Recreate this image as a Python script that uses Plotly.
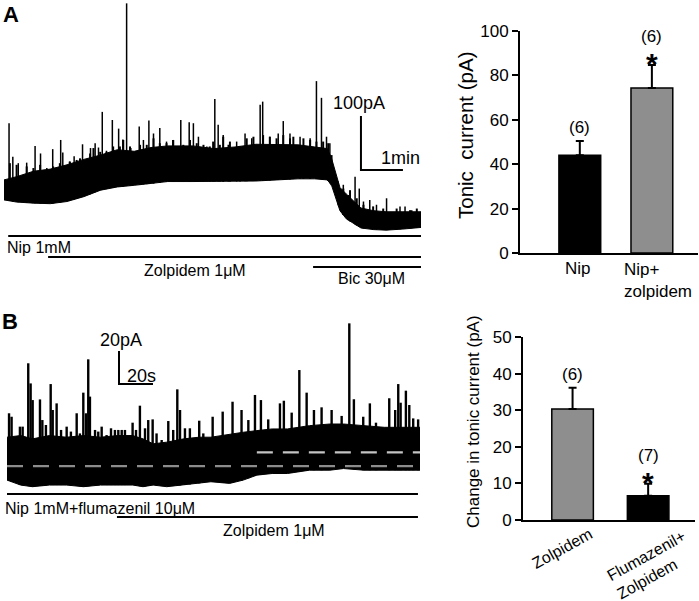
import numpy as np
import plotly.graph_objects as go

W, H = 699, 601
FONT = "Liberation Sans, Arial, sans-serif"

# ---- panel A trace (time in min, current in pA) ----
a_t = [0, 0.3, 0.7, 1.1, 1.5, 1.9, 2.3, 2.7, 3.1, 3.5, 3.9, 4.5, 5.0, 5.5, 6.0, 6.5, 7.0, 7.4,
       7.7, 7.8, 7.9, 8.0, 8.15, 8.3, 8.5, 8.8, 9.1, 9.5, 9.93]
a_low = [65, 61, 59, 58, 62, 71, 83, 89, 92, 95, 99, 99, 99, 99, 100, 102, 104, 104,
         102, 92, 70, 45, 30, 22, 13, 10, 9, 11, 14]
a_high = [102, 108, 118, 122, 130, 140, 148, 158, 155, 162, 165, 165, 160, 163, 168, 168, 167, 163,
          160, 142, 117, 88, 76, 65, 50, 45, 43, 43, 43]
a_spk_t = [0.12, 0.21, 0.34, 0.54, 0.74, 0.87, 1.02, 1.16, 1.35, 1.40, 1.56, 1.67, 1.87, 2.06, 2.17,
           2.25, 2.34, 2.44, 2.58, 2.73, 2.83, 2.92, 3.02, 3.22, 3.32, 3.45, 3.56, 3.71, 3.87, 4.02,
           4.21, 4.41, 4.51, 4.63, 4.83, 5.02, 5.10, 5.22, 5.34, 5.54, 5.74, 5.90, 6.10, 6.16, 6.33,
           6.53, 6.65, 6.81, 7.05, 7.29, 7.44, 7.56, 7.68, 7.76, 7.96, 8.08, 8.20, 8.36, 8.46, 8.56,
           8.71, 8.87, 9.11, 9.43, 9.55, 9.71]
a_spk_pa = [207, 145, 133, 134, 165, 151, 124, 159, 176, 153, 136, 146, 168, 161, 170,
            162, 228, 156, 213, 197, 177, 429, 161, 201, 176, 212, 188, 198, 173, 176,
            213, 209, 207, 182, 164, 252, 204, 185, 167, 173, 188, 179, 241, 247, 182,
            188, 211, 188, 182, 179, 285, 254, 182, 170, 99, 93, 74, 108, 86, 62,
            65, 56, 68, 53, 53, 46]
# smaller events riding on the top of the band
a_minor_t = [0.14, 0.30, 0.54, 0.70, 0.86, 1.17, 1.33, 1.57, 1.73, 1.81, 2.05, 2.13, 2.29, 2.44,
             2.60, 2.76, 2.84, 3.00, 3.24, 3.40, 3.56, 3.71, 3.87, 4.03, 4.27, 4.43, 4.59, 4.75,
             4.90, 4.98, 5.14, 5.22, 5.38, 5.62, 5.78, 5.94, 6.17, 6.33, 6.49, 6.65, 6.81, 6.89,
             7.13, 7.29, 7.44, 7.60, 7.72, 7.80, 8.08, 8.24, 8.40, 8.56, 8.79, 9.03, 9.35, 9.67, 9.83]
a_minor_pa = [133, 130, 127, 124, 130, 127, 133, 136, 139, 142, 151, 161, 154, 154,
              164, 164, 176, 164, 167, 167, 179, 170, 170, 176, 167, 176, 170, 167,
              164, 173, 167, 182, 173, 164, 179, 182, 185, 182, 179, 185, 179, 182,
              179, 176, 173, 173, 170, 148, 86, 83, 68, 56, 53, 49, 49, 46, 49]
a_drugs = ["Nip 1mM", "Zolpidem 1\u03bcM", "Bic 30\u03bcM"]
a_drug_start = [0.1, 1.05, 7.36]
a_drug_end = [9.98, 9.98, 9.98]

# ---- panel B trace (time in s, current in pA) ----
b_t = [0, 8, 15, 25, 35, 45, 55, 65, 74, 80, 86, 94, 104, 113, 120, 131, 139, 147, 156, 165,
       178, 190, 198, 210, 222, 232, 243]
b_low = [6, 3, 2, 3, 3, 2, 3, 3, 3, 2, 3, 2, 3, 4, 5, 4, 6, 9, 10, 10, 12, 12, 13, 12, 12, 12, 12]
b_high = [32, 33, 31, 33, 32, 33, 32, 33, 33, 31, 28, 29, 31, 32, 32, 34, 35, 36, 37, 37,
          39, 40, 40, 39, 38, 38, 38]
b_spk_t = [1.2, 2.7, 7.6, 9.2, 12.5, 13.9, 15.1, 19.4, 20.8, 22.9, 25.7, 26.9, 29.2, 31.8, 35.1,
           37.6, 41.0, 42.9, 44.9, 46.5, 47.8, 48.8, 51.8, 53.7, 55.7, 58.6, 61.2, 63.5, 65.5, 67.5,
           69.4, 73.9, 75.9, 78.2, 81.2, 83.1, 85.7, 88.0, 91.0, 94.9, 97.8, 100.2, 101.8, 104.7,
           107.6, 113.1, 115.5, 121.0, 126.9, 132.7, 138.0, 142.0, 145.9, 149.4, 153.7, 160.6,
           162.9, 167.5, 172.0, 176.3, 180.6, 185.1, 191.0, 196.9, 201.4, 204.1, 209.6, 213.5,
           217.1, 224.9, 228.4, 230.2, 231.6, 234.7, 236.7, 239.0, 241.9]
b_spk_pa = [46.5, 44.4, 38.4, 38.4, 76.8, 64.6, 54.5, 54.9, 42.4, 39.4, 64.2, 48.5, 52.5, 36.4, 38.4,
            35.4, 46.5, 34.3, 59.0, 46.5, 79.2, 56.6, 36.4, 35.4, 38.4, 33.3, 37.4, 36.4, 36.4, 36.4,
            36.4, 40.8, 36.4, 51.1, 37.4, 42.4, 42.8, 34.3, 30.3, 41.8, 36.4, 61.0, 48.5, 37.4,
            37.4, 42.0, 34.3, 44.4, 47.5, 53.5, 48.5, 42.4, 57.6, 54.5, 42.8, 52.5,
            54.1, 46.9, 72.7, 59.0, 48.5, 50.1, 48.5, 44.9, 101.0, 55.0, 44.4, 52.5,
            40.8, 55.6, 48.5, 64.2, 52.9, 60.2, 51.5, 43.4, 42.8]
b_base_level = [14.5, 22.8]
b_base_start = [0, 147]
b_drugs = ["Nip 1mM+flumazenil 10\u03bcM", "Zolpidem 1\u03bcM"]
b_drug_start = [0, 64.7]
b_drug_end = [241.8, 241.8]

# ---- bar charts ----
a_cats = ["Nip", "Nip+zolpidem"]
a_mean = [44, 74.3]
a_err = [6.5, 10.4]
a_n = ["(6)", "(6)"]
a_sig = ["", "*"]
b_cats = ["Zolpidem", "Flumazenil+Zolpidem"]
b_mean = [30.3, 6.6]
b_err = [5.8, 3.3]
b_n = ["(6)", "(7)"]
b_sig = ["", "*"]


def px(x):
    return x / W


def py(y):
    return 1 - y / H


def spikes(ts, peaks, band_t, band_low):
    base = np.interp(ts, band_t, band_low)
    xs, ys = [], []
    for t, b, p in zip(ts, base, peaks):
        xs += [t, t, None]
        ys += [b, p, None]
    return xs, ys


fig = go.Figure()

# trace A
fig.add_trace(go.Scatter(x=a_t, y=a_low, mode="lines", line=dict(color="black", width=1),
                         xaxis="x", yaxis="y"))
fig.add_trace(go.Scatter(x=a_t, y=a_high, mode="lines", line=dict(color="black", width=1),
                         fill="tonexty", fillcolor="black", xaxis="x", yaxis="y"))
sx, sy = spikes(a_minor_t, a_minor_pa, a_t, a_low)
fig.add_trace(go.Scatter(x=sx, y=sy, mode="lines", line=dict(color="black", width=2),
                         xaxis="x", yaxis="y"))
sx, sy = spikes(a_spk_t, a_spk_pa, a_t, a_low)
fig.add_trace(go.Scatter(x=sx, y=sy, mode="lines", line=dict(color="black", width=1.5),
                         xaxis="x", yaxis="y"))
# scale bar A: 100 pA / 1 min
fig.add_trace(go.Scatter(x=[8.5, 8.5, 9.5], y=[220.4, 120.4, 120.4], mode="lines",
                         line=dict(color="black", width=2), xaxis="x", yaxis="y"))

# trace B
fig.add_trace(go.Scatter(x=b_t, y=b_low, mode="lines", line=dict(color="black", width=1),
                         xaxis="x2", yaxis="y2"))
fig.add_trace(go.Scatter(x=b_t, y=b_high, mode="lines", line=dict(color="black", width=1),
                         fill="tonexty", fillcolor="black", xaxis="x2", yaxis="y2"))
sx, sy = spikes(b_spk_t, b_spk_pa, b_t, b_low)
fig.add_trace(go.Scatter(x=sx, y=sy, mode="lines", line=dict(color="black", width=2.4),
                         xaxis="x2", yaxis="y2"))
for lvl, st, col in zip(b_base_level, b_base_start, ["#8c8c8c", "#c4c4c4"]):
    fig.add_trace(go.Scatter(x=[st, b_t[-1]], y=[lvl, lvl], mode="lines",
                             line=dict(color=col, width=2.2, dash="16px,10px"),
                             xaxis="x2", yaxis="y2"))
fig.add_trace(go.Scatter(x=[65.9, 65.9, 85.9], y=[84.2, 64.2, 64.2], mode="lines",
                         line=dict(color="black", width=2), xaxis="x2", yaxis="y2"))

# bar charts
fig.add_trace(go.Bar(x=a_cats, y=a_mean, width=0.58,
                     marker=dict(color=["black", "#8e8e8e"], line=dict(color="black", width=1.5)),
                     error_y=dict(type="data", symmetric=False, array=a_err, arrayminus=[0, 0],
                                  color="black", thickness=2, width=4),
                     xaxis="x3", yaxis="y3"))
fig.add_trace(go.Bar(x=b_cats, y=b_mean, width=0.55,
                     marker=dict(color=["#8e8e8e", "black"], line=dict(color="black", width=1.5)),
                     error_y=dict(type="data", symmetric=False, array=b_err, arrayminus=[0, 0],
                                  color="black", thickness=2, width=4),
                     xaxis="x4", yaxis="y4"))

shapes = []
ann = []
# drug application bars
for name, s, e, yb in zip(a_drugs, a_drug_start, a_drug_end, [236, 257, 267]):
    shapes.append(dict(type="line", xref="x", yref="paper", x0=s, x1=e, y0=py(yb), y1=py(yb),
                       line=dict(color="black", width=2)))
for name, s, e, yb in zip(b_drugs, b_drug_start, b_drug_end, [494, 517]):
    shapes.append(dict(type="line", xref="x2", yref="paper", x0=s, x1=e, y0=py(yb), y1=py(yb),
                       line=dict(color="black", width=2)))


def text(t, x, y, size, xanchor="center", angle=0, align="center"):
    ann.append(dict(text=t, x=x, y=y, xref="paper", yref="paper", xanchor=xanchor, yanchor="middle",
                    showarrow=False, textangle=angle, align=align,
                    font=dict(family=FONT, size=size, color="black")))


text("<b>A</b>", px(1), py(15), 22, xanchor="left")
text("<b>B</b>", px(0), py(321), 22, xanchor="left")
text(a_drugs[0], px(5), py(247), 16, xanchor="left")
text(a_drugs[1], px(195), py(270), 16)
text(a_drugs[2], px(371), py(278), 16)
text(b_drugs[0], px(3), py(508), 16, xanchor="left")
text(b_drugs[1], px(274), py(530), 16)
text("100pA", px(359), py(103), 18)
text("1min", px(400), py(158), 18)
text("20pA", px(121), py(340), 18)
text("20s", px(141), py(376), 18)

# bar chart labels
text("Tonic\u00a0 current (pA)", px(465), py(136), 20.5, angle=-90)
text("Nip", px(578), py(268), 17)
text("Nip+<br>zolpidem", px(622), py(280), 17, xanchor="left", align="left")
text("Change in tonic current (pA)", px(473), py(422), 17, angle=-90)
text("Zolpidem", px(562), py(548), 16, angle=-29)
text("Flumazenil+<br>Zolpidem", px(651), py(565), 16, angle=-29, align="left")


def bar_label(n, sig, x, y, xref, yref):
    # n above the error bar; significance star sits between n and the cap
    ann.append(dict(text=n, x=x, y=y, xref=xref, yref=yref, yanchor="middle", showarrow=False,
                    yshift=28 if sig else 13, borderpad=0,
                    font=dict(family=FONT, size=17, color="black")))
    if sig:
        ann.append(dict(text="<b>" + sig + "</b>", x=x, y=y, xref=xref, yref=yref,
                        yanchor="top", showarrow=False, yshift=19, borderpad=0,
                        font=dict(family=FONT, size=30, color="black")))


for i in range(2):
    bar_label(a_n[i], a_sig[i], a_cats[i], a_mean[i] + a_err[i], "x3", "y3")
    bar_label(b_n[i], b_sig[i], b_cats[i], b_mean[i] + b_err[i], "x4", "y4")

hidden = dict(visible=False, showgrid=False, zeroline=False, automargin=False)
bar_x = dict(showline=True, linewidth=2, linecolor="black", ticks="", showticklabels=False,
             showgrid=False, zeroline=False, type="category", automargin=False)
bar_y = dict(showline=True, linewidth=2, linecolor="black", ticks="outside", ticklen=6,
             tickwidth=2, tickcolor="black", showgrid=False, zeroline=False, automargin=False,
             tickfont=dict(family=FONT, size=17, color="black"))

fig.update_layout(
    template="none",
    width=W, height=H, margin=dict(l=0, r=0, t=0, b=0, pad=0, autoexpand=False),
    paper_bgcolor="white", plot_bgcolor="white", showlegend=False,
    xaxis=dict(domain=[px(4), px(421)], range=[0, 9.93], **hidden),
    yaxis=dict(domain=[py(240), py(0)], range=[-9.26, 435.2], **hidden),
    xaxis2=dict(domain=[px(7), px(420)], range=[0, 243], **hidden),
    yaxis2=dict(domain=[py(495), py(320)], range=[-3.03, 103.03], **hidden),
    xaxis3=dict(domain=[px(520), px(698)], range=[-0.83, 1.64], anchor="y3", **bar_x),
    yaxis3=dict(domain=[py(253), py(31)], range=[0, 100], dtick=20, anchor="x3", **bar_y),
    xaxis4=dict(domain=[px(523), px(695)], range=[-0.656, 1.62], anchor="y4", **bar_x),
    yaxis4=dict(domain=[py(520), py(337)], range=[0, 50], dtick=10, anchor="x4", **bar_y),
    shapes=shapes, annotations=ann,
)

# the page's default body margin would shift the figure by 8px
fig.write_html("out.html", post_script="document.body.style.margin='0';",
               config={"displayModeBar": False})
